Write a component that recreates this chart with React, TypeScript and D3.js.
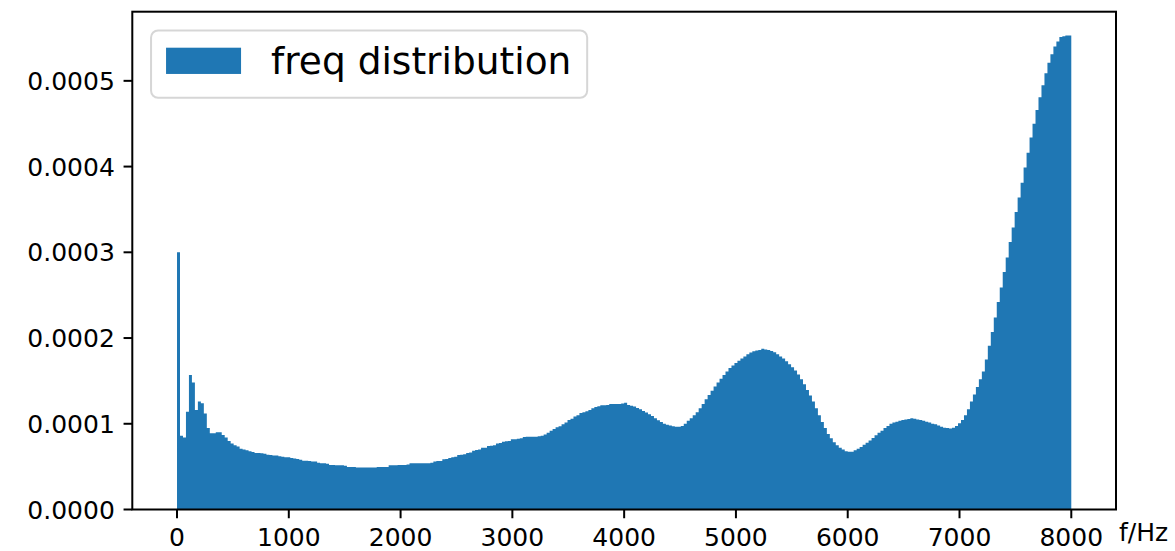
import React from "react";
import * as d3 from "d3";

// ---------- data (density values in units of 1e-6 per Hz, 300 equal bins over 0..8000 Hz) ----------
const DENSITY_UNIT = 1e-6;
const F_MIN = 0;
const F_MAX = 8000;

const density0To2000 = [
  300, 86, 84, 114, 157, 148, 116, 126, 124, 112,
  95, 89, 89, 90, 90, 87, 84, 80, 77, 75,
  73.5, 71, 70, 69, 68, 67, 66, 66, 65.5, 65,
  64, 63.5, 63, 63, 62, 61.5, 61, 61, 60, 59.5,
  59, 58, 57, 57, 56.5, 56, 56, 54.5, 54, 54,
  53.5, 52, 52, 51.5, 51.5, 51.5, 51, 49.5, 49.5, 49.5,
  49, 49, 49, 49, 49, 49, 49, 49.5, 49.5, 49.5,
  49.5, 51.5, 51.5, 51.5, 52,
];

const density2000To4000 = [
  52, 52, 52.5, 54, 54, 54, 54, 54, 54, 54,
  54.5, 56, 56.5, 56.5, 58.5, 59, 60, 61, 61.5, 63.5,
  64, 64.5, 66, 66.5, 68.5, 69.5, 70, 72, 72, 74,
  74.5, 75, 77, 77.5, 79, 79.5, 80, 82, 82, 82.5,
  83, 84.5, 85, 85, 85, 85, 85.5, 86, 87.5, 89.5,
  92, 94, 96, 97, 99.5, 101.5, 104.5, 106, 108.5, 110,
  112.5, 113.5, 114.5, 116, 118, 119.5, 120.5, 121.5, 121.5, 122,
  123, 123, 123, 123, 123.5,
];

const density4000To6000 = [
  124.5, 122, 121, 120, 118.5, 117, 115, 113, 111, 109,
  106.5, 104, 102, 100, 99, 98, 97, 96.5, 96.5, 97.5,
  100, 103.5, 106.5, 110, 113.5, 118, 123, 128.5, 133.5, 138.5,
  143.5, 148, 152.5, 157, 161, 165, 168, 171, 173.5, 176,
  178.5, 181, 183, 184.5, 185.5, 186, 187.5, 186.5, 186, 185,
  183.5, 181, 178.5, 176, 173, 169.5, 166, 162, 157.5, 152,
  146, 139.5, 133, 126, 118, 110, 102, 95, 88, 83,
  78.5, 75, 72, 70, 68,
];

const density6000To8000 = [
  67.5, 67.5, 69, 71, 73, 75.5, 78, 80.5, 83.5, 86.5,
  89.5, 92, 95, 97.5, 100, 101.5, 102.5, 103.5, 104.5, 105,
  105.5, 106.5, 106, 105, 104.5, 103.5, 102.5, 101.5, 100, 99.5,
  98, 96.5, 95.5, 95, 94.5, 95.5, 97.5, 100.5, 104.5, 110,
  117, 126, 134, 143, 152, 161, 175, 191, 207, 224,
  242, 259, 277, 294, 312, 329, 347, 364, 381, 399,
  416, 434, 450, 466, 481, 495, 509, 521, 531, 540,
  546, 551, 552, 553, 553,
];

const xTicks = [0, 1000, 2000, 3000, 4000, 5000, 6000, 7000, 8000];
const yTicks = [0, 0.0001, 0.0002, 0.0003, 0.0004, 0.0005];
const legendLabel = "freq distribution";
const xAxisLabel = "f/Hz";

// ---------- layout ----------
const W = 1175;
const H = 551;
const PLOT = { left: 132.3, right: 1116, top: 11.7, bottom: 509.5 };
const BAR_COLOR = "#1f77b4";
const FONT = "'DejaVu Sans', Verdana, sans-serif";
const TICK_FS = 25;
const LEGEND_FS = 37.5;
const TICK_LEN = 8.75;
const TICK_PAD = 8.75;

export default function App() {
  const values = [
    ...density0To2000,
    ...density2000To4000,
    ...density4000To6000,
    ...density6000To8000,
  ].map((v) => v * DENSITY_UNIT);
  const n = values.length;
  const binW = (F_MAX - F_MIN) / n;
  const maxV = d3.max(values) as number;
  const span = F_MAX - F_MIN;

  const x = d3
    .scaleLinear()
    .domain([F_MIN - 0.05 * span, F_MAX + 0.05 * span])
    .range([PLOT.left, PLOT.right]);
  const y = d3
    .scaleLinear()
    .domain([0, maxV * 1.05])
    .range([PLOT.bottom, PLOT.top]);

  const pts = values.map((v, i) => ({ f: F_MIN + i * binW, v }));
  pts.push({ f: F_MAX, v: values[n - 1] });

  const area = d3
    .area<{ f: number; v: number }>()
    .x((d) => x(d.f))
    .y0(y(0))
    .y1((d) => y(d.v))
    .curve(d3.curveStepAfter);

  const fmtY = d3.format(".4f");

  // legend geometry (matplotlib-like, in units of legend font size)
  const lgLeft = PLOT.left + 0.5 * LEGEND_FS;
  const lgTop = PLOT.top + 0.5 * LEGEND_FS;
  const pad = 0.4 * LEGEND_FS;
  const handleW = 2.0 * LEGEND_FS;
  const handleH = 0.7 * LEGEND_FS;
  const textX = lgLeft + pad + handleW + 0.8 * LEGEND_FS;
  const textBaseline = lgTop + pad + 0.76 * LEGEND_FS;
  const lgW = pad + handleW + 0.8 * LEGEND_FS + 8.03 * LEGEND_FS + pad;
  const lgH = pad * 2 + 0.996 * LEGEND_FS;

  return (
    <svg
      width={W}
      height={H}
      viewBox={`0 0 ${W} ${H}`}
      style={{ position: "absolute", left: 0, top: 0, background: "#fff" }}
      fontFamily={FONT}
    >
      <rect x={0} y={0} width={W} height={H} fill="#fff" />
      <path d={area(pts) || ""} fill={BAR_COLOR} stroke="none" />

      {/* spines */}
      <rect
        x={PLOT.left}
        y={PLOT.top}
        width={PLOT.right - PLOT.left}
        height={PLOT.bottom - PLOT.top}
        fill="none"
        stroke="#000"
        strokeWidth={2}
      />

      {/* x ticks */}
      {xTicks.map((t) => (
        <g key={"x" + t}>
          <line
            x1={x(t)}
            x2={x(t)}
            y1={PLOT.bottom}
            y2={PLOT.bottom + TICK_LEN}
            stroke="#000"
            strokeWidth={2}
          />
          <text
            x={x(t)}
            y={PLOT.bottom + TICK_LEN + TICK_PAD + 0.76 * TICK_FS}
            fontSize={TICK_FS}
            textAnchor="middle"
            fill="#000"
          >
            {String(t)}
          </text>
        </g>
      ))}

      {/* y ticks */}
      {yTicks.map((t) => (
        <g key={"y" + t}>
          <line
            x1={PLOT.left - TICK_LEN}
            x2={PLOT.left}
            y1={y(t)}
            y2={y(t)}
            stroke="#000"
            strokeWidth={2}
          />
          <text
            x={PLOT.left - TICK_LEN - TICK_PAD}
            y={y(t) + 0.365 * TICK_FS}
            fontSize={TICK_FS}
            textAnchor="end"
            fill="#000"
          >
            {fmtY(t)}
          </text>
        </g>
      ))}

      {/* x axis label */}
      <text x={1119} y={541} fontSize={TICK_FS} fill="#000">
        {xAxisLabel}
      </text>

      {/* legend */}
      <rect
        x={lgLeft}
        y={lgTop}
        width={lgW}
        height={lgH}
        rx={7}
        ry={7}
        fill="#fff"
        fillOpacity={0.8}
        stroke="#cccccc"
        strokeOpacity={0.8}
        strokeWidth={2}
      />
      <rect
        x={lgLeft + pad}
        y={47.7}
        width={handleW}
        height={handleH}
        fill={BAR_COLOR}
      />
      <text x={textX} y={textBaseline} fontSize={LEGEND_FS} fill="#000">
        {legendLabel}
      </text>
    </svg>
  );
}
